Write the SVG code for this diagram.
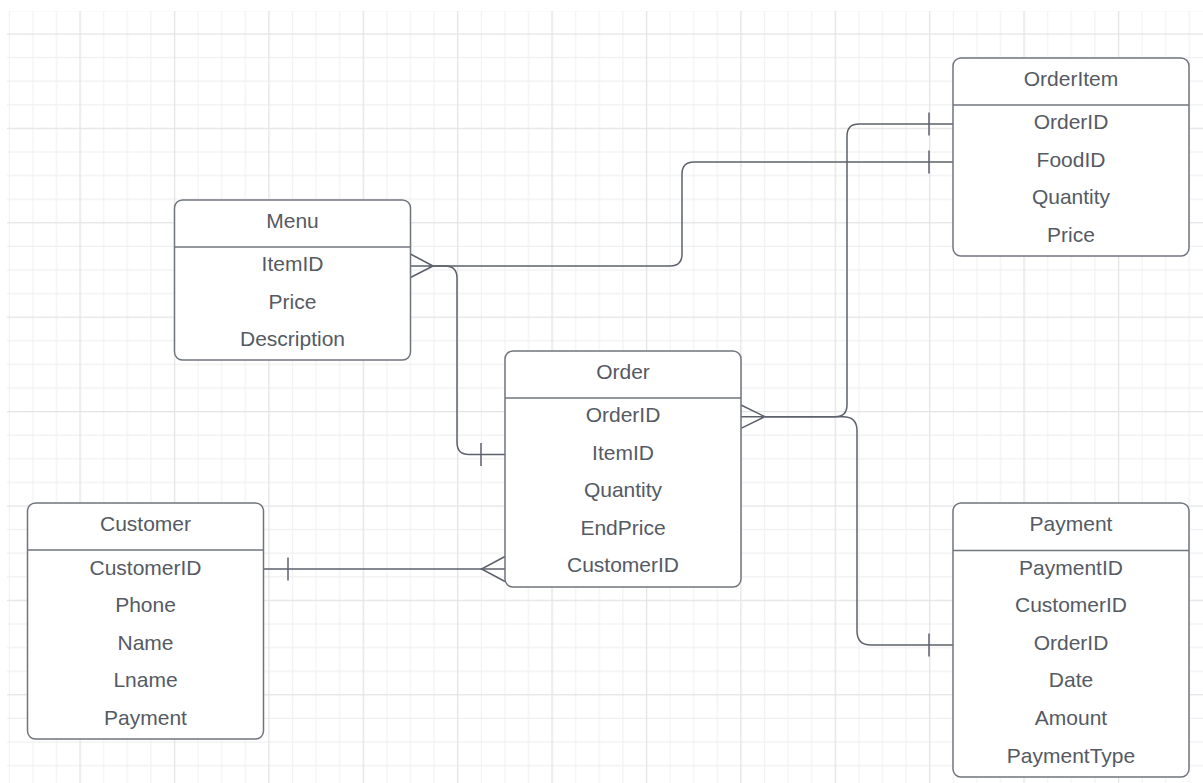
<svg xmlns="http://www.w3.org/2000/svg" width="1203" height="783" viewBox="0 0 1203 783">
  <defs>
    <pattern id="grid" patternUnits="userSpaceOnUse" x="44.7" y="-1.4" width="94.4" height="94.4">
      <g stroke="#f0f0f0" stroke-width="1">
        <line x1="11.8" y1="0" x2="11.8" y2="94.4"/>
        <line x1="59" y1="0" x2="59" y2="94.4"/>
        <line x1="82.6" y1="0" x2="82.6" y2="94.4"/>
        <line x1="0" y1="11.8" x2="94.4" y2="11.8"/>
        <line x1="0" y1="59" x2="94.4" y2="59"/>
        <line x1="0" y1="82.6" x2="94.4" y2="82.6"/>
      </g>
      <g stroke="#e3e3e3" stroke-width="1.3">
        <line x1="35.4" y1="0" x2="35.4" y2="94.4"/>
        <line x1="0" y1="35.4" x2="94.4" y2="35.4"/>
      </g>
    </pattern>
    <style>
      .box { fill: #ffffff; stroke: #70757d; stroke-width: 1.5; }
      .div { stroke: #70757d; stroke-width: 1.5; }
      .t { font-family: "Liberation Sans", Arial, sans-serif; font-size: 21px; fill: #555a63; text-anchor: middle; }
      .c { fill: none; stroke: #5c616b; stroke-width: 1.5; }
    </style>
  </defs>

  <rect x="0" y="0" width="1203" height="783" fill="#ffffff"/>
  <rect x="7" y="11" width="1196" height="772" fill="url(#grid)"/>

  <g id="connectors">
    <!-- Menu crow's foot -->
    <path class="c" d="M410.5,254 L433,266 M410.5,277.5 L433,266 M410.5,266 H433"/>
    <!-- Menu.ItemID -> OrderItem.FoodID -->
    <path class="c" d="M433,266 H670 Q682,266 682,254 V174 Q682,162 694,162 H953"/>
    <path class="c" d="M929,150.5 V173.5"/>
    <!-- Menu.ItemID -> Order.ItemID -->
    <path class="c" d="M433,266 H445 Q457,266 457,278 V442.5 Q457,454.5 469,454.5 H505"/>
    <path class="c" d="M481,443 V466"/>
    <!-- Order crow's foot -->
    <path class="c" d="M741,405 L765,416.7 M741,428.4 L765,416.7 M741,416.7 H765"/>
    <!-- Order.OrderID -> OrderItem.OrderID -->
    <path class="c" d="M765,416.7 H835 Q847,416.7 847,404.7 V136 Q847,124 859,124 H953"/>
    <path class="c" d="M929,112.5 V135.5"/>
    <!-- Order.OrderID -> Payment.OrderID -->
    <path class="c" d="M765,416.7 H843 Q857,416.7 857,430.7 V631 Q857,645 871,645 H953"/>
    <path class="c" d="M929,633.5 V656.5"/>
    <!-- Customer.CustomerID -> Order.CustomerID -->
    <path class="c" d="M263.5,569 H505"/>
    <path class="c" d="M288,557.5 V580.5"/>
    <path class="c" d="M505,556.5 L481.5,569 L505,581.5"/>
  </g>

  <g id="menu">
    <rect class="box" x="174.5" y="200" width="236" height="160" rx="8"/>
    <line class="div" x1="174.5" y1="247" x2="410.5" y2="247"/>
    <text class="t" x="292.5" y="228">Menu</text>
    <text class="t" x="292.5" y="271">ItemID</text>
    <text class="t" x="292.5" y="308.6">Price</text>
    <text class="t" x="292.5" y="346.2">Description</text>
  </g>

  <g id="order">
    <rect class="box" x="505" y="351" width="236" height="236" rx="8"/>
    <line class="div" x1="505" y1="398" x2="741" y2="398"/>
    <text class="t" x="623" y="379">Order</text>
    <text class="t" x="623" y="422">OrderID</text>
    <text class="t" x="623" y="459.6">ItemID</text>
    <text class="t" x="623" y="497.2">Quantity</text>
    <text class="t" x="623" y="534.8">EndPrice</text>
    <text class="t" x="623" y="572.4">CustomerID</text>
  </g>

  <g id="customer">
    <rect class="box" x="27.5" y="503" width="236" height="236" rx="8"/>
    <line class="div" x1="27.5" y1="550" x2="263.5" y2="550"/>
    <text class="t" x="145.5" y="531">Customer</text>
    <text class="t" x="145.5" y="574.5">CustomerID</text>
    <text class="t" x="145.5" y="612.1">Phone</text>
    <text class="t" x="145.5" y="649.7">Name</text>
    <text class="t" x="145.5" y="687.3">Lname</text>
    <text class="t" x="145.5" y="724.9">Payment</text>
  </g>

  <g id="payment">
    <rect class="box" x="953" y="503" width="236" height="274" rx="8"/>
    <line class="div" x1="953" y1="550.5" x2="1189" y2="550.5"/>
    <text class="t" x="1071" y="531">Payment</text>
    <text class="t" x="1071" y="574.5">PaymentID</text>
    <text class="t" x="1071" y="612.1">CustomerID</text>
    <text class="t" x="1071" y="649.7">OrderID</text>
    <text class="t" x="1071" y="687.3">Date</text>
    <text class="t" x="1071" y="724.9">Amount</text>
    <text class="t" x="1071" y="762.5">PaymentType</text>
  </g>

  <g id="orderitem">
    <rect class="box" x="953" y="58" width="236" height="198" rx="8"/>
    <line class="div" x1="953" y1="105" x2="1189" y2="105"/>
    <text class="t" x="1071" y="86">OrderItem</text>
    <text class="t" x="1071" y="129">OrderID</text>
    <text class="t" x="1071" y="166.6">FoodID</text>
    <text class="t" x="1071" y="204.2">Quantity</text>
    <text class="t" x="1071" y="241.8">Price</text>
  </g>
</svg>
